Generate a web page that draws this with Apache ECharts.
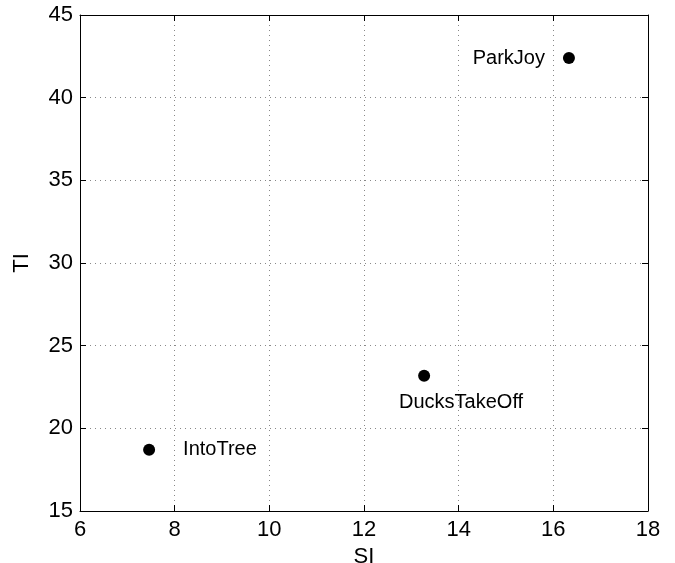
<!DOCTYPE html>
<html>
<head>
<meta charset="utf-8">
<script src="https://cdn.jsdelivr.net/npm/echarts@6/dist/echarts.min.js"></script>
<style>html,body{margin:0;padding:0;background:#fff}#c{width:675px;height:563px}</style>
</head>
<body>
<div id="c"></div>
<script>
const names = ['ParkJoy', 'DucksTakeOff', 'IntoTree'];
const siValues = [16.33, 13.27, 7.46];
const tiValues = [42.4, 23.18, 18.7];

const labelCfg = [
  {position: 'left', distance: 18},
  {position: 'bottom', distance: 11, offset: [37, 0]},
  {position: 'right', distance: 28}
];

const font = 'Liberation Sans, Arial, Helvetica, sans-serif';
const chart = echarts.init(document.getElementById('c'), null, {renderer: 'canvas'});

const baseAxis = {
  axisLine: {show: true, onZero: false, lineStyle: {color: '#000', width: 1}},
  axisTick: {show: true, inside: true, length: 6, lineStyle: {color: '#000'}},
  axisLabel: {color: '#000', fontSize: 22, fontFamily: font},
};

chart.setOption({
  animation: false,
  grid: {left: 80, right: 27, top: 15, bottom: 52, show: false, containLabel: false, outerBoundsMode: 'none'},
  xAxis: [
    Object.assign({}, baseAxis, {
      type: 'value', min: 6, max: 18, interval: 2, position: 'bottom',
      name: 'SI', nameLocation: 'middle', nameGap: 22,
      nameTextStyle: {color: '#000', fontSize: 22, fontFamily: font},
      axisLabel: Object.assign({}, baseAxis.axisLabel, {margin: 8}),
      splitLine: {show: true, lineStyle: {color: '#888', type: [1, 4], width: 1}}
    }),
    Object.assign({}, baseAxis, {
      type: 'value', min: 6, max: 18, interval: 2, position: 'top',
      axisLabel: {show: false}, splitLine: {show: false}
    })
  ],
  yAxis: [
    Object.assign({}, baseAxis, {
      type: 'value', min: 15, max: 45, interval: 5, position: 'left',
      name: 'TI', nameLocation: 'middle', nameGap: 47,
      nameTextStyle: {color: '#000', fontSize: 22, fontFamily: font},
      axisLabel: Object.assign({}, baseAxis.axisLabel, {margin: 7}),
      splitLine: {show: true, lineStyle: {color: '#888', type: [1, 4], width: 1}}
    }),
    Object.assign({}, baseAxis, {
      type: 'value', min: 15, max: 45, interval: 5, position: 'right',
      axisLabel: {show: false}, splitLine: {show: false}
    })
  ],
  series: [{
    type: 'scatter',
    symbol: 'circle',
    symbolSize: 12,
    itemStyle: {color: '#000', opacity: 1},
    data: names.map((n, i) => ({
      name: n,
      value: [siValues[i], tiValues[i]],
      label: Object.assign({
        show: true, formatter: n, color: '#000', fontSize: 20, fontFamily: font
      }, labelCfg[i])
    }))
  }]
});
</script>
</body>
</html>
